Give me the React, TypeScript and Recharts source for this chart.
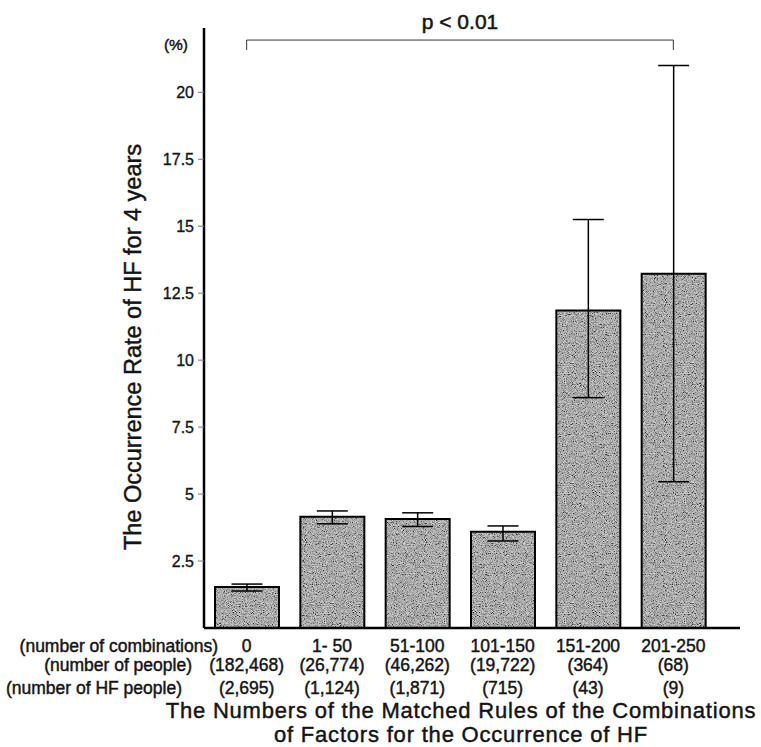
import React from 'react';
import { BarChart, Bar, XAxis, YAxis, ErrorBar, ReferenceLine } from 'recharts';

// ---- data ----
const categories = ['0', '1- 50', '51-100', '101-150', '151-200', '201-250'];
const peopleCounts = ['(182,468)', '(26,774)', '(46,262)', '(19,722)', '(364)', '(68)'];
const hfPeopleCounts = ['(2,695)', '(1,124)', '(1,871)', '(715)', '(43)', '(9)'];
const occurrenceRate = [1.53, 4.15, 4.07, 3.59, 11.85, 13.23];
const ciLower = [1.38, 3.89, 3.79, 3.25, 8.6, 5.46];
const ciUpper = [1.64, 4.37, 4.3, 3.81, 15.25, 21.0];
const yTicks = [2.5, 5, 7.5, 10, 12.5, 15, 17.5, 20];
const rowLabels = ['(number of combinations)', '(number of people)', '(number of HF people)'];
const yAxisTitle = 'The Occurrence Rate of HF for 4 years';
const xAxisTitle = ['The Numbers of the Matched Rules of the Combinations', 'of Factors for the Occurrence of HF'];
const significance = 'p < 0.01';
const bracketLevel = 21.95;
const bracketDrop = 21.58;

const data = categories.map((c, i) => ({
  cat: c,
  rate: occurrenceRate[i],
  err: [occurrenceRate[i] - ciLower[i], ciUpper[i] - occurrenceRate[i]],
}));

const FONT = '"Liberation Sans", Arial, Helvetica, sans-serif';
const INK = '#141414';
const HEAVY = { stroke: INK, strokeWidth: 0.45 };

const XTick = (props: any) => {
  const { x, index } = props;
  return (
    <g fontFamily={FONT} fontSize={17.5} fill={INK}>
      <text x={x} y={652} textAnchor="middle" fill={INK} {...HEAVY} style={{ whiteSpace: 'pre' }}>{categories[index]}</text>
      <text x={x} y={671} textAnchor="middle" fill={INK} {...HEAVY}>{peopleCounts[index]}</text>
      <text x={x} y={694} textAnchor="middle" fill={INK} {...HEAVY}>{hfPeopleCounts[index]}</text>
    </g>
  );
};

const XTitle = () => (
  <g fontFamily={FONT} fill={INK}>
    <text x={218} y={652} textAnchor="end" fontSize={17.5} fill={INK} {...HEAVY}>{rowLabels[0]}</text>
    <text x={192} y={671} textAnchor="end" fontSize={17.5} fill={INK} {...HEAVY}>{rowLabels[1]}</text>
    <text x={182} y={694} textAnchor="end" fontSize={17.5} fill={INK} {...HEAVY}>{rowLabels[2]}</text>
    <text x={461} y={718} textAnchor="middle" fontSize={22} letterSpacing={0.8} fill={INK} {...HEAVY}>{xAxisTitle[0]}</text>
    <text x={461} y={742} textAnchor="middle" fontSize={22} letterSpacing={0.8} fill={INK} {...HEAVY}>{xAxisTitle[1]}</text>
  </g>
);

const YTitle = () => (
  <g fontFamily={FONT} fill={INK}>
    <text x={188} y={50} textAnchor="end" fontSize={15.5} fill={INK} {...HEAVY}>(%)</text>
    <text
      x={0}
      y={0}
      transform="translate(141,347) rotate(-90)"
      textAnchor="middle"
      fontSize={23.5}
      fill={INK}
      {...HEAVY}
    >
      {yAxisTitle}
    </text>
  </g>
);

export default function App() {
  return (
    <div style={{ position: 'absolute', left: 0, top: 0, width: 761, height: 747, background: '#fff' }}>
      <BarChart
        width={761}
        height={747}
        data={data}
        margin={{ top: 28, right: 21, bottom: 0, left: 0 }}
        barSize={64}
      >
        <defs>
          <filter id="grain" x="0" y="0" width="100%" height="100%" filterUnits="userSpaceOnUse">
            <feTurbulence type="fractalNoise" baseFrequency="1.1" numOctaves="2" seed="7" result="noise" />
            <feColorMatrix
              in="noise"
              type="matrix"
              values="2.2 0 0 0 -0.58  2.2 0 0 0 -0.58  2.2 0 0 0 -0.58  0 0 0 0 0.6"
            />
          </filter>
          <pattern id="grainFill" x="0" y="0" width="120" height="120" patternUnits="userSpaceOnUse">
            <rect x="0" y="0" width="120" height="120" fill="#8a8a8a" />
            <rect x="0" y="0" width="120" height="120" fill="#fff" filter="url(#grain)" />
          </pattern>
        </defs>
        <XAxis
          dataKey="cat"
          type="category"
          height={119}
          interval={0}
          padding={{ left: 0, right: 24 }}
          axisLine={{ stroke: '#000', strokeWidth: 2.5 }}
          tickLine={false}
          tick={<XTick />}
          label={<XTitle />}
        />
        <YAxis
          width={204}
          type="number"
          domain={[0, 22.4]}
          ticks={yTicks}
          interval={0}
          axisLine={{ stroke: '#000', strokeWidth: 2.5 }}
          tickLine={{ stroke: '#777', strokeWidth: 1 }}
          tickSize={6}
          tickMargin={4}
          tick={{ fill: INK, fontSize: 16, fontFamily: FONT, stroke: INK, strokeWidth: 0.35 }}
          label={<YTitle />}
        />
        <ReferenceLine
          segment={[{ x: categories[0], y: bracketLevel }, { x: categories[5], y: bracketLevel }]}
          stroke="#333"
          strokeWidth={1}
          ifOverflow="visible"
          label={{ value: significance, position: 'top', offset: 11, fontSize: 21, fill: INK, fontFamily: FONT, stroke: INK, strokeWidth: 0.5 }}
        />
        <ReferenceLine
          segment={[{ x: categories[0], y: bracketLevel }, { x: categories[0], y: bracketDrop }]}
          stroke="#333"
          strokeWidth={1}
          ifOverflow="visible"
        />
        <ReferenceLine
          segment={[{ x: categories[5], y: bracketLevel }, { x: categories[5], y: bracketDrop }]}
          stroke="#333"
          strokeWidth={1}
          ifOverflow="visible"
        />
        <Bar dataKey="rate" fill="url(#grainFill)" stroke="#000" strokeWidth={2} isAnimationActive={false}>
          <ErrorBar dataKey="err" direction="y" width={15.5} stroke="#000" strokeWidth={1.5} isAnimationActive={false} />
        </Bar>
      </BarChart>
    </div>
  );
}
